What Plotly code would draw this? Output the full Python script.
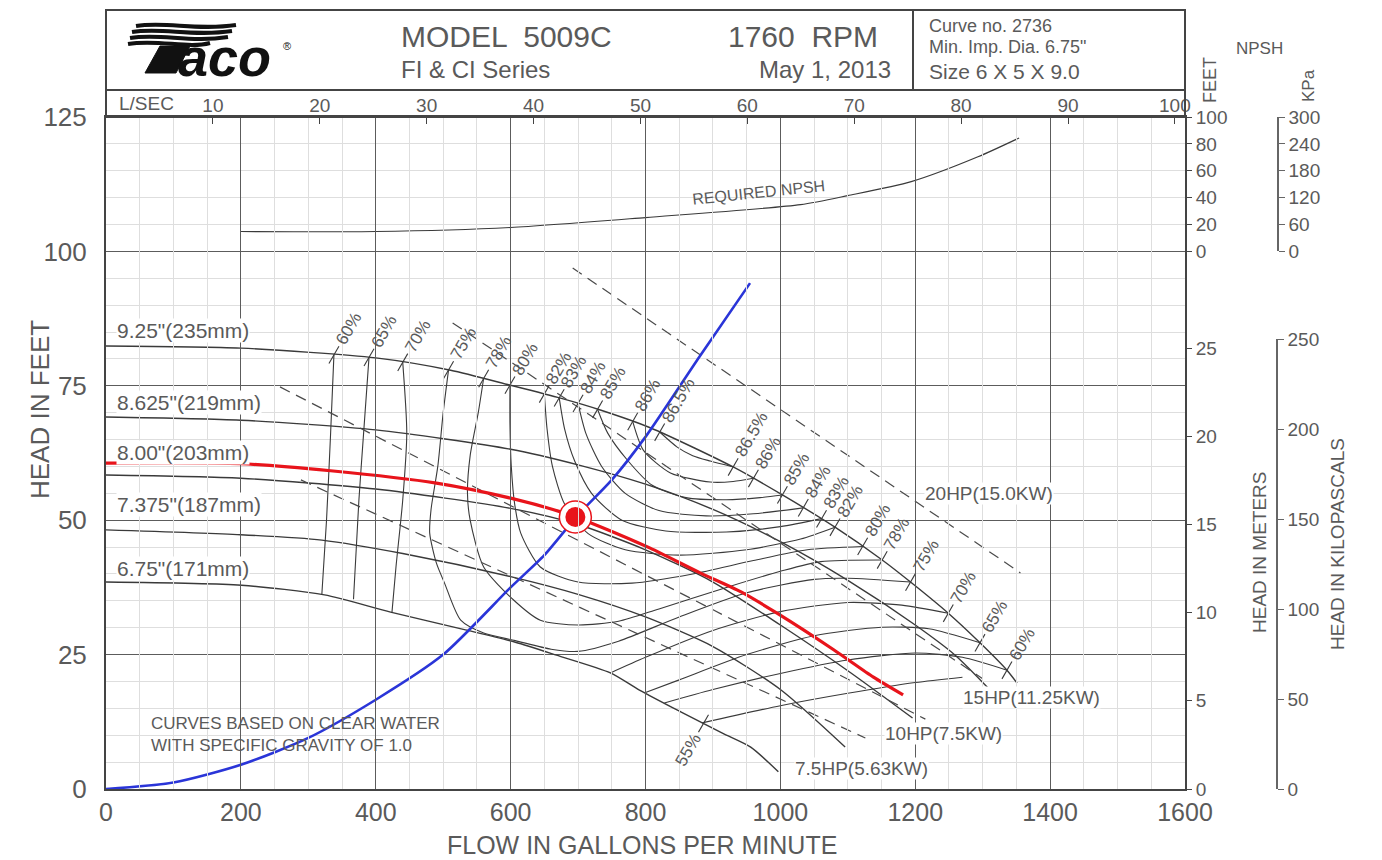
import numpy as np
import plotly.graph_objects as go

# ---------------- data : impeller head curves (US GPM, feet) ----------------
imp925_q = [0, 200, 400, 511, 600, 674, 733, 807, 930, 1003, 1081, 1151, 1193, 1249, 1296, 1336, 1351]
imp925_h = [82.4, 82.0, 80.2, 77.9, 75.1, 72.7, 70.5, 67.2, 59.9, 54.7, 48.7, 42.6, 38.5, 32.7, 27.2, 22.1, 19.7]
imp8625_q = [0, 200, 400, 600, 700, 800, 900, 1000, 1100, 1200, 1260, 1311]
imp8625_h = [69.2, 68.6, 66.8, 63.2, 60.3, 56.7, 52.0, 46.0, 38.8, 30.5, 24.8, 18.4]
imp800_q = [0, 200, 400, 600, 700, 800, 900, 1000, 1100, 1196]
imp800_h = [58.4, 57.8, 55.8, 52.2, 49.2, 44.5, 38.5, 30.5, 22.0, 13.2]
imp7375_q = [0, 200, 320, 440, 600, 700, 800, 900, 1000, 1096]
imp7375_h = [48.2, 47.3, 46.3, 43.8, 39.5, 36.2, 32.0, 26.5, 18.5, 7.8]
imp675_q = [0, 201, 324, 422, 533, 607, 668, 748, 791, 853, 914, 956, 997]
imp675_h = [38.5, 37.9, 36.1, 32.9, 29.6, 27.3, 24.9, 21.6, 18.4, 14.3, 10.4, 7.8, 3.2]
imp_labels = ['9.25"(235mm)', '8.625"(219mm)', '8.00"(203mm)', '7.375"(187mm)', '6.75"(171mm)']

# selected (trimmed) impeller curve, system curve, duty point
sel_q = [0, 200, 333, 490, 600, 673, 696, 733, 807, 881, 941, 995, 1079, 1138, 1182]
sel_h = [60.6, 60.5, 59.2, 56.9, 54.1, 51.6, 50.6, 48.8, 44.8, 40.2, 36.7, 32.7, 25.9, 20.8, 17.5]
sys_q = [0, 100, 200, 300, 400, 500, 600, 650, 700, 750, 800, 880, 955]
sys_h = [0, 1.2, 4.5, 9.5, 16.6, 25.0, 37.5, 43.5, 51.0, 57.5, 65.5, 80.4, 94.1]
duty_q = [696]
duty_h = [50.6]

# required NPSH (feet of NPSH)
npsh_q = [200, 400, 600, 800, 1030, 1100, 1194, 1293, 1354]
npsh_ft = [14.8, 14.8, 17.8, 25.2, 34.8, 41.5, 51.9, 70.4, 84.4]

# efficiency iso-lines
eff865_q = [821, 847, 870, 896, 930]
eff865_h = [66.4, 63.6, 62.0, 61.0, 59.9]
eff86_q = [781, 797, 837, 896, 930, 960]
eff86_h = [68.4, 63.0, 58.8, 57.1, 57.2, 57.8]
eff85_q = [729, 744, 773, 810, 860, 920, 970, 1003]
eff85_h = [70.6, 66.2, 61.2, 56.5, 54.2, 53.8, 54.2, 54.7]
eff84_q = [700, 712, 735, 770, 820, 890, 960, 1034]
eff84_h = [71.7, 66.0, 60.0, 55.0, 51.8, 50.8, 51.2, 52.3]
eff83_q = [672, 680, 695, 720, 765, 830, 920, 1000, 1061]
eff83_h = [72.8, 67.0, 61.0, 55.0, 50.0, 48.0, 47.8, 48.8, 50.3]
eff82_q = [650, 654, 662, 680, 715, 770, 850, 950, 1030, 1081]
eff82_h = [73.5, 67.0, 60.0, 53.0, 47.5, 44.5, 43.5, 44.5, 46.5, 48.7]
eff80_q = [599, 599, 601, 606, 615, 644, 700, 780, 870, 960, 1040, 1122]
eff80_h = [75.1, 68.0, 60.0, 53.0, 47.6, 41.3, 38.5, 38.3, 40.0, 42.5, 44.5, 45.1]
eff78_q = [560, 552, 540, 536, 540, 560, 604, 644, 700, 760, 820, 920, 1000, 1060, 1151]
eff78_h = [76.4, 70.0, 62.0, 55.0, 50.0, 41.3, 35.2, 31.4, 30.5, 31.2, 33.5, 37.5, 40.5, 42.3, 42.6]
eff75_q = [508, 500, 492, 482, 480, 490, 502, 526, 560, 607, 660, 700, 760, 850, 950, 1050, 1100, 1193]
eff75_h = [78.0, 70.0, 60.0, 52.0, 47.6, 42.0, 38.3, 31.4, 29.0, 27.6, 26.0, 25.6, 27.5, 32.0, 36.5, 39.0, 39.2, 38.5]
eff70a_q = [440, 446, 440, 430, 424]
eff70a_h = [79.4, 66.2, 53.7, 41.3, 32.8]
eff70b_q = [748, 800, 900, 1000, 1100, 1180, 1249]
eff70b_h = [21.6, 24.5, 29.5, 33.0, 34.7, 34.2, 32.7]
eff65a_q = [390, 382, 375, 367]
eff65a_h = [80.3, 66.2, 53.7, 35.3]
eff65b_q = [799, 850, 950, 1050, 1150, 1220, 1296]
eff65b_h = [17.9, 20.3, 25.0, 28.5, 30.1, 29.8, 27.2]
eff60a_q = [338, 333, 327, 320]
eff60a_h = [80.8, 66.0, 50.0, 36.1]
eff60b_q = [828, 900, 1000, 1100, 1200, 1270, 1336]
eff60b_h = [16.0, 18.5, 21.5, 24.0, 25.3, 24.5, 22.1]
eff55_q = [884, 1000, 1100, 1200, 1270]
eff55_h = [12.3, 15.5, 17.8, 19.8, 20.8]

eff_left_labels = ['60%', '65%', '70%', '75%', '78%', '80%', '82%', '83%', '84%', '85%', '86%', '86.5%']
eff_left_q = [338, 390, 440, 508, 560, 599, 650, 672, 700, 729, 781, 821]
eff_right_labels = ['86.5%', '86%', '85%', '84%', '83%', '82%', '80%', '78%', '75%', '70%', '65%', '60%']
eff_right_q = [930, 960, 1003, 1034, 1061, 1081, 1122, 1151, 1193, 1249, 1296, 1336]
eff_low_label = '55%'
eff_low_q = 886

# motor power limit lines
hp20_q = [692, 1356]
hp20_h = [96.9, 40.2]
hp15_q = [514, 1300]
hp15_h = [86.7, 20.5]
hp10_q = [258, 1215]
hp10_h = [74.8, 13.0]
hp75_q = [289, 1126]
hp75_h = [57.5, 9.5]
hp_labels = ['20HP(15.0KW)', '15HP(11.25KW)', '10HP(7.5KW)', '7.5HP(5.63KW)']

# axes
gpm_ticks = list(range(0, 1601, 200))
ft_ticks = list(range(0, 126, 25))
lps_ticks = list(range(10, 101, 10))
m_ticks = list(range(0, 26, 5))
npsh_ticks = list(range(0, 101, 20))
kpa_npsh_ticks = list(range(0, 301, 60))
kpa_ticks = list(range(0, 251, 50))

# ---------------- layout geometry ----------------
W, H = 1382, 860
ML, MR, MT, MB = 106, 20, 117, 71
PW = W - ML - MR
PH = H - MT - MB
XR = 1185  # right edge of the chart frame (px)


def xp(px):
    return (px - ML) / PW


def yp(py):
    return (H - MB - py) / PH


GPM_PX = (XR - ML) / 1600.0
FT_PX = PH / 125.0
TXT = '#5a5a5a'
LINE = '#3a3a3a'
FONT = 'Liberation Sans'

fig = go.Figure()


def add_line(q, h, width=1.2, color=LINE, dash=None, shape='spline', xaxis='x', yaxis='y'):
    fig.add_trace(go.Scatter(x=q, y=h, mode='lines', xaxis=xaxis, yaxis=yaxis,
                             line=dict(color=color, width=width, dash=dash, shape=shape, smoothing=0.7),
                             hoverinfo='skip', showlegend=False))


# impeller curves
for q, h in [(imp925_q, imp925_h), (imp8625_q, imp8625_h), (imp800_q, imp800_h),
             (imp7375_q, imp7375_h), (imp675_q, imp675_h)]:
    add_line(q, h, width=1.4)

# efficiency lines
for q, h in [(eff865_q, eff865_h), (eff86_q, eff86_h), (eff85_q, eff85_h), (eff84_q, eff84_h),
             (eff83_q, eff83_h), (eff82_q, eff82_h), (eff80_q, eff80_h), (eff78_q, eff78_h),
             (eff75_q, eff75_h), (eff70a_q, eff70a_h), (eff70b_q, eff70b_h), (eff65a_q, eff65a_h),
             (eff65b_q, eff65b_h), (eff60a_q, eff60a_h), (eff60b_q, eff60b_h), (eff55_q, eff55_h)]:
    add_line(q, h, width=1.1)

# power lines
for q, h in [(hp20_q, hp20_h), (hp15_q, hp15_h), (hp10_q, hp10_h), (hp75_q, hp75_h)]:
    add_line(q, h, width=1.2, color='#4a4a4a', dash='11px,7px', shape='linear')

# efficiency tick marks on the curves
ang = np.deg2rad(60)
half = 10.0
dq = half * np.cos(ang) / GPM_PX
dh = half * np.sin(ang) / FT_PX
tick_pts = []
for q in eff_left_q + eff_right_q:
    tick_pts.append((q, float(np.interp(q, imp925_q, imp925_h))))
low_tick = (eff_low_q, float(np.interp(eff_low_q, imp675_q, imp675_h)))
tick_pts.append(low_tick)
tx, ty = [], []
for q, h in tick_pts:
    tx += [q - dq, q + dq, None]
    ty += [h - dh, h + dh, None]
add_line(tx, ty, width=1.1, shape='linear')

# NPSH curve on its own axis
add_line(npsh_q, npsh_ft, width=1.2, yaxis='y2')

# system curve, selected curve, duty point
add_line(sys_q, sys_h, width=2.6, color='#2a35d8')
add_line(sel_q, sel_h, width=3.2, color='#e8141b')
fig.add_trace(go.Scatter(x=duty_q, y=duty_h, mode='markers',
                         marker=dict(size=32, color='white', line=dict(color='#e8141b', width=1.5)),
                         hoverinfo='skip', showlegend=False))
fig.add_trace(go.Scatter(x=duty_q, y=duty_h, mode='markers',
                         marker=dict(size=20, color='#e8141b', line=dict(width=0)),
                         hoverinfo='skip', showlegend=False))

# invisible anchors so every extra axis is drawn
for xa, ya, yv in [('x2', 'y', 0), ('x', 'y3', 0), ('x', 'y4', 0), ('x', 'y5', 0)]:
    fig.add_trace(go.Scatter(x=[0], y=[yv], xaxis=xa, yaxis=ya, mode='markers',
                             marker=dict(opacity=0), hoverinfo='skip', showlegend=False))

ann = []


def text_px(px, py, text, size, xanchor='left', angle=0, color=TXT, bg=None, family=FONT):
    d = dict(x=xp(px), y=yp(py), xref='paper', yref='paper', text=text, showarrow=False,
             xanchor=xanchor, yanchor='middle', textangle=angle,
             font=dict(family=family, size=size, color=color))
    if bg:
        d['bgcolor'] = bg
        d['borderpad'] = 0
    ann.append(d)


def tw(s, fs):
    w = 0
    for c in s:
        w += 0.278 if c == '.' else (0.889 if c == '%' else 0.556)
    return w * fs


EFS = 17
for labels, qs in [(eff_left_labels, eff_left_q), (eff_right_labels, eff_right_q)]:
    for lab, q in zip(labels, qs):
        h = float(np.interp(q, imp925_q, imp925_h))
        d = 13 + tw(lab, EFS) / 2
        ann.append(dict(x=q, y=h, xref='x', yref='y', text=lab, showarrow=False, textangle=-60,
                        xshift=d * np.cos(ang), yshift=d * np.sin(ang),
                        font=dict(family=FONT, size=EFS, color=TXT)))
d = 13 + tw(eff_low_label, EFS) / 2
ann.append(dict(x=low_tick[0], y=low_tick[1], xref='x', yref='y', text=eff_low_label, showarrow=False,
                textangle=-60, xshift=-d * np.cos(ang), yshift=-d * np.sin(ang),
                font=dict(family=FONT, size=EFS, color=TXT)))

# impeller labels
for lab, py in zip(imp_labels, [330, 402, 452, 505, 568]):
    text_px(116, py, lab, 21, bg='white')

# power labels
for lab, (px, py) in zip(hp_labels, [(924, 493), (962, 697), (884, 733), (794, 768)]):
    text_px(px, py, lab, 19, bg='white')

text_px(758, 192, 'REQUIRED NPSH', 16, xanchor='center', angle=-6)
text_px(149, 723, 'CURVES BASED ON CLEAR WATER', 17)
text_px(149, 745, 'WITH SPECIFIC GRAVITY OF 1.0', 17)

# header texts
text_px(399, 36, 'MODEL  5009C', 30)
text_px(399, 69, 'FI &amp; CI Series', 24)
text_px(726, 36, '1760  RPM', 30)
text_px(893, 69, 'May 1, 2013', 24, xanchor='right')
text_px(927, 26, 'Curve no. 2736', 18)
text_px(927, 47, 'Min. Imp. Dia. 6.75"', 18)
text_px(927, 71, 'Size 6 X 5 X 9.0', 21)
text_px(117, 103, 'L/SEC', 19)

# logo
text_px(176, 57, '<b><i>aco</i></b>', 54, color='#111111')
text_px(281, 46, '®', 11, color='#111111')

# axis titles
text_px(40, 410, 'HEAD IN FEET', 26, xanchor='center', angle=-90)
text_px(642, 845, 'FLOW IN GALLONS PER MINUTE', 25, xanchor='center')
text_px(1259, 552, 'HEAD IN METERS', 19, xanchor='center', angle=-90)
text_px(1337, 544, 'HEAD IN KILOPASCALS', 19, xanchor='center', angle=-90)
text_px(1210, 80, 'FEET', 18, xanchor='center', angle=-90)
text_px(1308, 86, 'KPa', 17, xanchor='center', angle=-90)
text_px(1259, 48, 'NPSH', 17, xanchor='center')

# shapes : header frame and logo
shp = []
LC = '#444444'
shp.append(dict(type='rect', xref='paper', yref='paper', x0=xp(ML), x1=xp(XR), y0=yp(117), y1=yp(10),
                line=dict(color=LC, width=2)))
shp.append(dict(type='line', xref='paper', yref='paper', x0=xp(ML), x1=xp(XR), y0=yp(90), y1=yp(90),
                line=dict(color=LC, width=2)))
shp.append(dict(type='line', xref='paper', yref='paper', x0=xp(913), x1=xp(913), y0=yp(10), y1=yp(90),
                line=dict(color=LC, width=2)))


def P(px, py):
    return f'{xp(px):.5f},{yp(py):.5f}'


for i, (y, x0, x1) in enumerate([(26, 136, 236), (32, 132, 232), (38, 130, 228), (44, 128, 210)]):
    shp.append(dict(type='path', xref='paper', yref='paper',
                    path=f'M {P(x0, y)} C {P(x0 + 30, y - 5)} {P(x0 + 60, y + 5)} {P(x1, y - 1)}',
                    line=dict(color='#111111', width=4)))
shp.append(dict(type='path', xref='paper', yref='paper',
                path=f'M {P(160, 46)} L {P(190, 46)} L {P(176, 73)} L {P(145, 73)} Z',
                fillcolor='#111111', line=dict(color='#111111', width=1)))

grid_major = '#5c5c5c'
grid_minor = '#dedede'
fig.update_layout(
    width=W, height=H, autosize=False,
    margin=dict(l=ML, r=MR, t=MT, b=MB, pad=0, autoexpand=False),
    paper_bgcolor='white', plot_bgcolor='rgba(0,0,0,0)',
    font=dict(family=FONT, color=TXT),
    showlegend=False,
    annotations=ann, shapes=shp,
    xaxis=dict(domain=[0, xp(XR)], range=[0, 1600], tickvals=gpm_ticks, ticks='',
               showgrid=True, gridcolor=grid_major, gridwidth=1.2,
               minor=dict(dtick=50, showgrid=True, gridcolor=grid_minor, gridwidth=1),
               showline=True, mirror=True, linecolor=LC, linewidth=2, zeroline=False, automargin=False,
               tickfont=dict(size=25, color=TXT), ticklabelstandoff=0),
    xaxis2=dict(overlaying='x', side='top', anchor='y', range=[0, 1600 / 15.8503], tickvals=lps_ticks,
                ticks='inside', ticklen=7, tickcolor=LC, tickwidth=1.3, showgrid=False, zeroline=False,
                showline=False, automargin=False, tickfont=dict(size=19, color=TXT)),
    yaxis=dict(domain=[0, 1], range=[0, 125], tickvals=ft_ticks, ticks='',
               showgrid=True, gridcolor=grid_major, gridwidth=1.2,
               minor=dict(dtick=5, showgrid=True, gridcolor=grid_minor, gridwidth=1),
               showline=True, mirror=True, linecolor=LC, linewidth=2, zeroline=False, automargin=False,
               tickfont=dict(size=26, color=TXT), ticklabelstandoff=12),
    yaxis2=dict(domain=[100 / 125, 1], range=[0, 100], anchor='x', side='right', tickvals=npsh_ticks,
                ticks='outside', ticklen=6, tickcolor=LC, showgrid=False, zeroline=False, showline=False,
                automargin=False, tickfont=dict(size=19, color=TXT)),
    yaxis3=dict(domain=[0, 1], range=[0, 125 * 0.3048], anchor='x', side='right', tickvals=m_ticks,
                ticks='outside', ticklen=6, tickcolor=LC, showgrid=False, zeroline=False, showline=False,
                automargin=False, tickfont=dict(size=19, color=TXT)),
    yaxis4=dict(domain=[100 / 125, 1], range=[0, 300], anchor='free', position=xp(1278), side='right',
                tickvals=kpa_npsh_ticks, ticks='outside', ticklen=6, tickcolor='#666666',
                showline=True, linecolor='#666666', linewidth=1.5, showgrid=False, zeroline=False,
                automargin=False, tickfont=dict(size=19, color=TXT)),
    yaxis5=dict(domain=[0, 250 / (125 * 2.98907)], range=[0, 250], anchor='free', position=xp(1277),
                side='right', tickvals=kpa_ticks, ticks='outside', ticklen=6, tickcolor='#666666',
                showline=True, linecolor='#666666', linewidth=1.5, showgrid=False, zeroline=False,
                automargin=False, tickfont=dict(size=19, color=TXT)),
)

fig.write_html('out.html', config=dict(displayModeBar=False, responsive=False))
